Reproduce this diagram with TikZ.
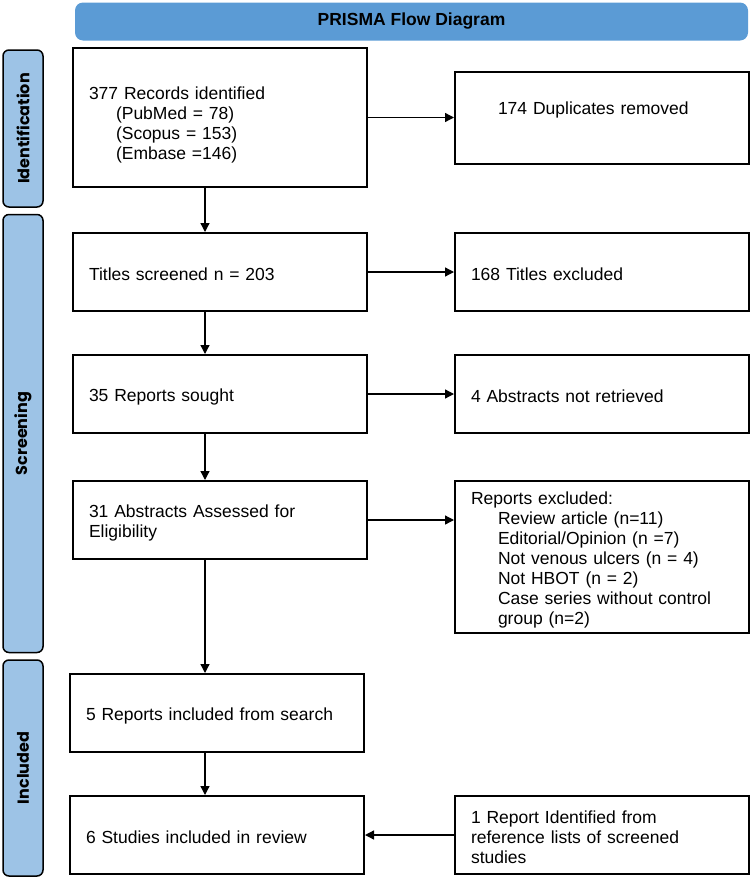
\documentclass[tikz,border=0pt]{standalone}
\usepackage{fontspec}
\setmainfont{Liberation Sans}
\newfontfamily\stagefont{Poppins}
\usepackage{tikz}
\usetikzlibrary{positioning, arrows.meta}
\definecolor{barblue}{HTML}{5B9BD5}
\definecolor{stageblue}{HTML}{9DC3E6}
\tikzset{
    titlebar/.style={rectangle, rounded corners=8pt, fill=barblue, minimum width=673pt, minimum height=38pt, font=\bfseries\fontsize{17.5}{20}\selectfont},
    stage/.style={rectangle, rounded corners=6pt, draw=black, line width=1.5pt, fill=stageblue, rotate=90, minimum height=40pt, font=\stagefont\bfseries\fontsize{16}{18}\selectfont},
    flowbox/.style={rectangle, draw=black, line width=2pt, fill=white, align=left, text width=262pt, inner xsep=16pt, minimum height=78pt, font=\fontsize{17.5}{20}\selectfont, execute at begin node={\rule{0pt}{18pt}}},
    arrow/.style={-{Triangle[length=9pt, width=9pt]}, line width=1.3pt}
}
\newcommand{\ind}{\hspace*{27pt}}

\begin{document}
\begin{tikzpicture}[x=1pt, y=-1pt]
        \useasboundingbox (0,0) rectangle (750,878);

        % Header and stages
        \node[titlebar] (Header) at (411.5,21.5) {PRISMA Flow Diagram};
        \node[stage, minimum width=157pt] (Ident) at (23,128.5) {Identification};
        \node[stage, minimum width=438pt] (Screen) at (23,433.5) {Screening};
        \node[stage, minimum width=216pt] (Incl) at (23,768) {Included};

        % Main column
        \node[flowbox, minimum height=139pt] (Records) at (220,117.5) {\rule{0pt}{27pt}377 Records identified\\
            \ind(PubMed = 78)\\
            \ind(Scopus = 153)\\
            \ind(Embase =146)};
        \node[flowbox, below=44pt of Records] (Titles) {Titles screened n = 203};
        \node[flowbox, below=42pt of Titles] (Sought) {35 Reports sought};
        \node[flowbox, below=46pt of Sought] (Abstracts) {31 Abstracts Assessed for\\Eligibility};
        \node[flowbox, below=113pt of Abstracts, xshift=-3pt] (Included) {5 Reports included from search};
        \node[flowbox, below=42pt of Included] (Studies) {6 Studies included in review};

        % Side column
        \node[flowbox, minimum height=92pt, right=86pt of Records] (Dups) {\ind 174 Duplicates removed\rule[-24pt]{0pt}{0pt}};
        \node[flowbox, right=86pt of Titles] (TitlesOut) {168 Titles excluded};
        \node[flowbox, right=86pt of Sought] (NotFound) {4 Abstracts not retrieved};
        \node[flowbox, minimum height=152pt, right=86pt of Abstracts.north east, anchor=north west] (ReportsOut) {Reports excluded:\\
            \ind Review article (n=11)\\
            \ind Editorial/Opinion (n =7)\\
            \ind Not venous ulcers (n = 4)\\
            \ind Not HBOT (n = 2)\\
            \ind Case series without control\\
            \ind group (n=2)};
        \node[flowbox, right=89pt of Studies] (RefList) {1 Report Identified from\\reference lists of screened\\studies};

        % Connections
        \coordinate (spine) at (205,0);
        \draw[arrow] (Records.south -| spine) -- (Titles.north -| spine);
        \draw[arrow] (Titles.south -| spine) -- (Sought.north -| spine);
        \draw[arrow] (Sought.south -| spine) -- (Abstracts.north -| spine);
        \draw[arrow] (Abstracts.south -| spine) -- (Included.north -| spine);
        \draw[arrow] (Included.south -| spine) -- (Studies.north -| spine);

        \draw[arrow] (Records.east) -- (Records.east -| Dups.west);
        \draw[arrow] (Titles.east) -- (Titles.east -| TitlesOut.west);
        \draw[arrow] (Sought.east) -- (Sought.east -| NotFound.west);
        \draw[arrow] (Abstracts.east) -- (Abstracts.east -| ReportsOut.west);
        \draw[arrow] (RefList) -- (Studies);

    \end{tikzpicture}
\end{document}
